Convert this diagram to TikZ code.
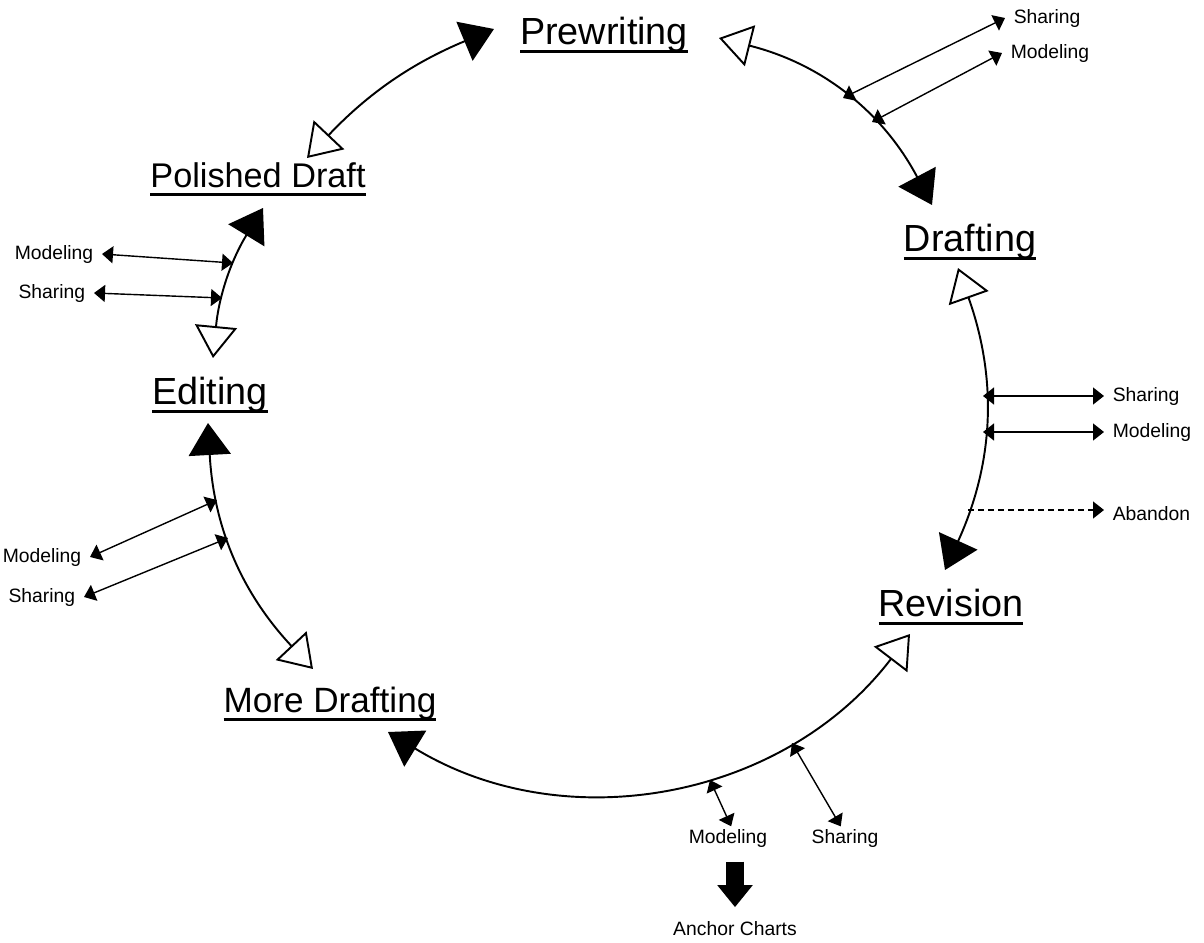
\documentclass[tikz,border=0pt]{standalone}
\usepackage{fontspec}
\setmainfont{Liberation Sans}
\usetikzlibrary{arrows.meta}

\newcommand{\stagename}[1]{\vtop{\setbox0\hbox{#1}\dp0=0pt\box0\kern3.5pt\hrule height 1.4pt}}

\begin{document}
\begin{tikzpicture}[x=0.02cm, y=-0.02cm,
   arcline/.style={line width=1.1pt, {Triangle[open, length=0.64cm, width=0.84cm]}-{Triangle[length=0.64cm, width=0.84cm]}},
   twoway/.style={line width=0.8pt, {Triangle[length=0.22cm, width=0.34cm]}-{Triangle[length=0.22cm, width=0.34cm]}},
   oneway/.style={line width=0.8pt, dash pattern=on 3.4pt off 2.3pt, -{Triangle[length=0.22cm, width=0.34cm]}}]

   \fill[white] (0,0) rectangle (1204,943);
   \useasboundingbox (0,0) rectangle (1204,943);

   \begin{scope}[every node/.style={inner sep=0pt, anchor=base, font=\fontsize{21.5}{25}\selectfont}]
    \node (pre) at (604,44) {\stagename{Prewriting}};
    \node (dra) at (970,251) {\stagename{Drafting}};
    \node (rev) at (951,616) {\stagename{Revision}};
    \node[font=\fontsize{20}{24}\selectfont] (mor) at (330,712) {\stagename{More Drafting}};
    \node (edi) at (210,404) {\stagename{Editing}};
    \node[font=\fontsize{19.5}{24}\selectfont] (pol) at (258,187) {\stagename{Polished Draft}};
   \end{scope}

   \begin{scope}[every node/.style={inner sep=1pt, outer sep=4pt, text height=8pt, text depth=2.3pt, font=\fontsize{11}{13}\selectfont}]
    \node[anchor=west] (shTR) at (1005,18) {Sharing};
    \node[anchor=west] (moTR) at (1002,53) {Modeling};
    \node[anchor=west] (shR) at (1104,396) {Sharing};
    \node[anchor=west] (moR) at (1104,432) {Modeling};
    \node[anchor=west] (abR) at (1104,515) {Abandon};
    \node[outer sep=0.5pt] (moB) at (728,838) {Modeling};
    \node[outer sep=0.5pt] (shB) at (845,838) {Sharing};
    \node (anc) at (735,930) {Anchor Charts};
    \node[anchor=east] (moLT) at (102,254) {Modeling};
    \node[anchor=east] (shLT) at (94,293) {Sharing};
    \node[anchor=east] (moLB) at (90,557) {Modeling};
    \node[anchor=east] (shLB) at (84,597) {Sharing};
   \end{scope}

   \coordinate (a1s) at (307,158);
   \coordinate (a1e) at (494,29);
   \coordinate (a2s) at (719,38);
   \coordinate (a2e) at (932,205);
   \coordinate (a3s) at (958,268);
   \coordinate (a3e) at (945,570);
   \coordinate (a4s) at (910,634);
   \coordinate (a4e) at (388,732);
   \coordinate (a5s) at (313,669);
   \coordinate (a5e) at (208,423);
   \coordinate (a6s) at (213,358);
   \coordinate (a6e) at (263,208);

   \coordinate (sTR) at (843,98);
   \coordinate (mTR) at (872,122);
   \coordinate (sR) at (983,396);
   \coordinate (mR) at (983,432);
   \coordinate (aR) at (968,510);
   \coordinate (mB) at (710,780);
   \coordinate (sB) at (792,743);
   \coordinate (mLT) at (233,263);
   \coordinate (sLT) at (222,298);
   \coordinate (mLB) at (217,500);
   \coordinate (sLB) at (228,538);

\draw (a1s) edge[arcline, bend left=12] (a1e);
\draw (a2s) edge[arcline, bend left=24] (a2e);
\draw (a3s) edge[arcline, bend left=22] (a3e);
\draw (a4s) edge[arcline, bend left=42] (a4e);
\draw (a5s) edge[arcline, bend left=20] (a5e);
\draw (a6s) edge[arcline, bend left=13] (a6e);

\draw (sTR) edge[twoway] (shTR.west);
\draw (mTR) edge[twoway] (moTR.west);
\draw (sR) edge[twoway] (sR -| shR.west);
\draw (mR) edge[twoway] (mR -| moR.west);
\draw (aR) edge[oneway] (aR -| abR.west);
\draw (mB) edge[twoway] (moB.75);
\draw (sB) edge[twoway] (shB.110);
\draw (mLT) edge[twoway] (moLT.east);
\draw (sLT) edge[twoway] (shLT.east);
\draw (mLB) edge[twoway] (moLB.east);
\draw (sLB) edge[twoway] (shLB.east);

\draw[line width=0.36cm, -{Triangle[length=0.44cm, width=0.68cm]}, shorten <=0.24cm, shorten >=0.1cm] (anc.north |- moB.south) -- (anc.north);
\end{tikzpicture}
\end{document}
